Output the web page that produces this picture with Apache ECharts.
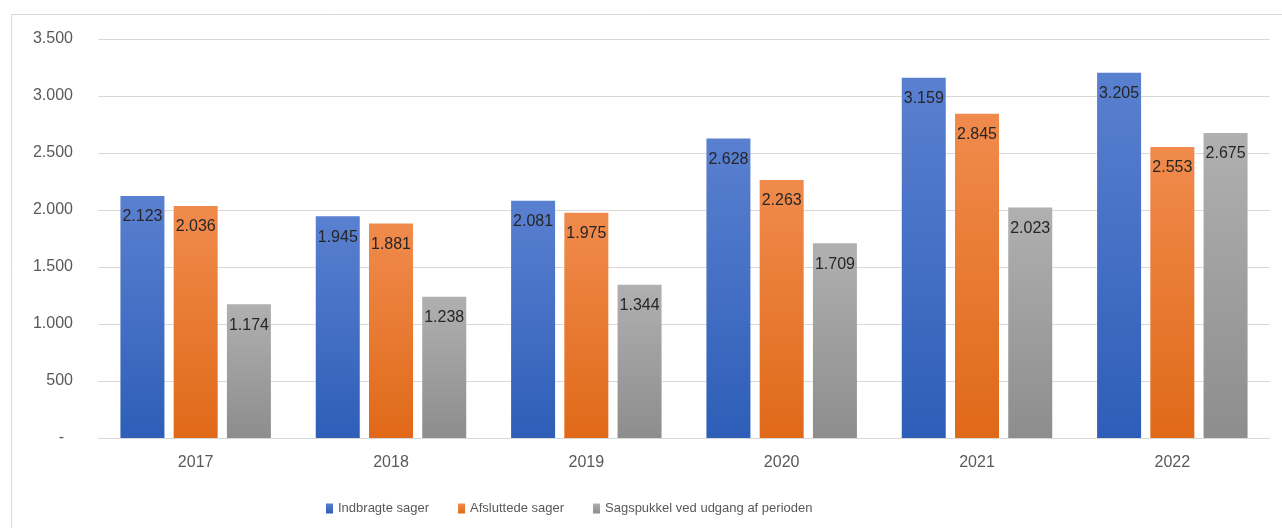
<!DOCTYPE html>
<html>
<head>
<meta charset="utf-8">
<script src="https://cdn.jsdelivr.net/npm/echarts@6/dist/echarts.min.js"></script>
<style>
  html, body { margin: 0; padding: 0; background: #ffffff; }
  #chart { width: 1282px; height: 528px; }
</style>
</head>
<body>
<div id="chart"></div>
<script>
// Years on the category axis
const years = ['2017', '2018', '2019', '2020', '2021', '2022'];

// Case counts per year
const seriesNames = ['Indbragte sager', 'Afsluttede sager', 'Sagspukkel ved udgang af perioden'];
const indbragte = [2123, 1945, 2081, 2628, 3159, 3205];
const afsluttede = [2036, 1881, 1975, 2263, 2845, 2553];
const sagspukkel = [1174, 1238, 1344, 1709, 2023, 2675];

// Value axis range
const yMin = 0;
const yMax = 3500;
const yStep = 500;

const FONT = '"Liberation Sans", Arial, sans-serif';

// Danish number style: dot as thousands separator, dash for zero
function fmt(v) {
  if (v === 0) return '-  ';
  return String(Math.round(v)).replace(/\B(?=(\d{3})+(?!\d))/g, '.');
}

function grad(top, bottom) {
  return new echarts.graphic.LinearGradient(0, 0, 0, 1, [
    { offset: 0, color: top },
    { offset: 1, color: bottom }
  ]);
}

const fills = [
  { bar: grad('#5a80d0', '#2e5eb8'), solid: '#4472c4' },
  { bar: grad('#f08b4d', '#e06918'), solid: '#ed7d31' },
  { bar: grad('#b0b0b0', '#8d8d8d'), solid: '#a5a5a5' }
];

function barSeries(name, data, f) {
  return {
    name: name,
    type: 'bar',
    data: data,
    barWidth: 44,
    barGap: '21%',
    color: f.solid,
    itemStyle: { color: f.bar },
    emphasis: { disabled: true },
    label: {
      show: true,
      position: 'insideTop',
      distance: 13,
      formatter: p => fmt(p.value),
      color: '#262626',
      fontFamily: FONT,
      fontSize: 16
    }
  };
}

const chart = echarts.init(document.getElementById('chart'), null, { renderer: 'canvas' });

chart.setOption({
  backgroundColor: '#ffffff',
  animation: false,
  graphic: [{
    type: 'rect',
    shape: { x: 11.5, y: 14.5, width: 1400, height: 700 },
    style: { fill: 'none', stroke: '#d9d9d9', lineWidth: 1 },
    silent: true,
    z: -10
  }],
  grid: { left: 98, right: 12, top: 39, bottom: 90 },
  legend: {
    data: seriesNames,
    left: 321,
    top: 497,
    itemWidth: 7,
    itemHeight: 10,
    itemGap: 29,
    icon: 'rect',
    textStyle: { color: '#595959', fontFamily: FONT, fontSize: 13 }
  },
  xAxis: {
    type: 'category',
    data: years,
    axisLine: { lineStyle: { color: '#d9d9d9', width: 1 } },
    axisTick: { show: false },
    axisLabel: { color: '#595959', fontFamily: FONT, fontSize: 16, margin: 17 }
  },
  yAxis: {
    type: 'value',
    min: yMin,
    max: yMax,
    interval: yStep,
    axisLine: { show: false },
    axisTick: { show: false },
    splitLine: { lineStyle: { color: '#d9d9d9', width: 1 } },
    axisLabel: {
      color: '#595959',
      fontFamily: FONT,
      fontSize: 16,
      margin: 25,
      formatter: v => fmt(v)
    }
  },
  series: [
    barSeries(seriesNames[0], indbragte, fills[0]),
    barSeries(seriesNames[1], afsluttede, fills[1]),
    barSeries(seriesNames[2], sagspukkel, fills[2])
  ]
});
</script>
</body>
</html>
